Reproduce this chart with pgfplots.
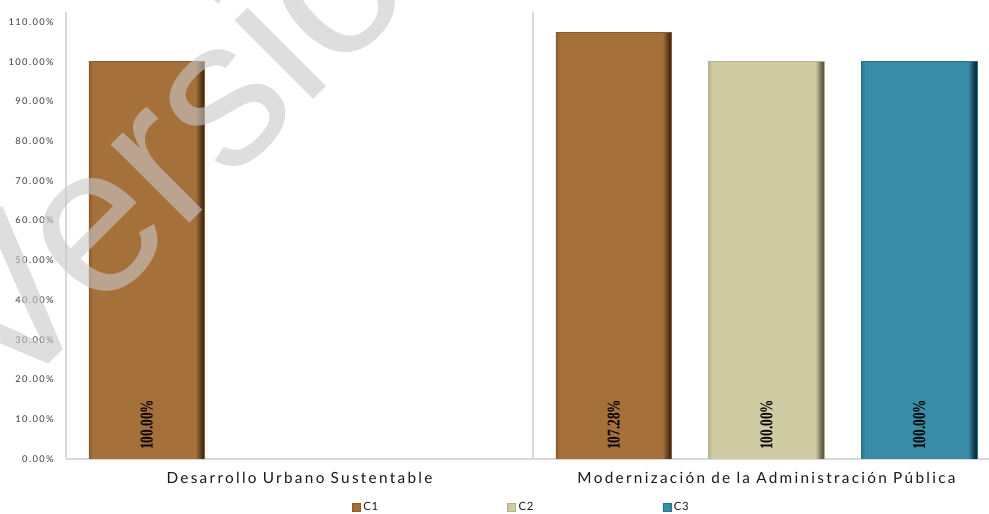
\documentclass[border=0pt]{standalone}
\usepackage{fontspec}
\setmainfont{Lato}
\newfontfamily\catfont[LetterSpace=15]{Lato}
\newfontfamily\tickfont[LetterSpace=15]{Lato}
\newfontfamily\legfont[LetterSpace=6]{Lato}
\newfontfamily\valfont{Liberation Serif}
\newfontfamily\wmfont{Liberation Sans}
\usepackage{pgfplots}
\pgfplotsset{compat=1.18}
\definecolor{cA}{RGB}{165,112,58}
\definecolor{cAl}{RGB}{140,92,46}
\definecolor{cAd}{RGB}{70,45,20}
\definecolor{cB}{RGB}{207,203,163}
\definecolor{cBl}{RGB}{185,180,142}
\definecolor{cBd}{RGB}{95,92,70}
\definecolor{cC}{RGB}{56,140,166}
\definecolor{cCl}{RGB}{44,115,138}
\definecolor{cCd}{RGB}{15,50,62}
\definecolor{axgray}{RGB}{217,217,217}
\definecolor{tickgray}{RGB}{60,60,60}
\definecolor{wm}{RGB}{200,200,200}
\pgfdeclarehorizontalshading{bevA}{100bp}{color(0bp)=(cAl); color(25bp)=(cAl); color(26.5bp)=(cA); color(71bp)=(cA); color(74bp)=(cAd); color(75bp)=(cAd); color(100bp)=(cAd)}
\pgfdeclarehorizontalshading{bevB}{100bp}{color(0bp)=(cBl); color(25bp)=(cBl); color(26.5bp)=(cB); color(71bp)=(cB); color(74bp)=(cBd); color(75bp)=(cBd); color(100bp)=(cBd)}
\pgfdeclarehorizontalshading{bevC}{100bp}{color(0bp)=(cCl); color(25bp)=(cCl); color(26.5bp)=(cC); color(71bp)=(cC); color(74bp)=(cCd); color(75bp)=(cCd); color(100bp)=(cCd)}
\begin{document}
\begin{tikzpicture}
\path[use as bounding box] (0pt,0pt) rectangle (741.75pt,385.5pt);
\begin{axis}[
  at={(49.5pt,41.25pt)}, anchor=south west,
  scale only axis, width=700.5pt, height=335.25pt,
  xmin=-0.5, xmax=1.5, ymin=0, ymax=112.5,
  axis x line=bottom, axis y line=left,
  axis line style={-, draw=axgray, line width=0.8pt},
  major tick length=0pt,
  /pgf/number format/assume math mode=true,
  xtick={0,1},
  xticklabels={Desarrollo Urbano Sustentable, Modernización de la Administración Pública},
  xticklabel style={font=\catfont\fontsize{11.5}{13}\selectfont, text=black!90, inner sep=0pt, text height=8pt, text depth=2pt},
  xticklabel shift=10pt,
  ytick={0,10,20,30,40,50,60,70,80,90,100,110},
  yticklabels={0.00\%,10.00\%,20.00\%,30.00\%,40.00\%,50.00\%,60.00\%,70.00\%,80.00\%,90.00\%,100.00\%,110.00\%},
  yticklabel style={font=\tickfont\fontsize{7}{8}\selectfont, text=tickgray, inner sep=0pt},
  yticklabel shift=9pt,
  ybar, bar width=0.248,
  visualization depends on={y \as \rawy},
  nodes near coords={\pgfmathprintnumber[fixed,fixed zerofill,precision=2]{\pgfplotspointmeta}\%},
  every node near coord/.append style={yshift={6.75pt-2.98pt*\rawy}, rotate=90, xscale=0.74, anchor=west, inner sep=0pt, font=\valfont\bfseries\fontsize{13.5}{13.5}\selectfont, text=black},
  legend columns=3,
  legend style={at={(axis description cs:0.3062,-0.1085)}, anchor=west, draw=none, fill=none, inner sep=0pt,
    font=\legfont\fontsize{8.5}{9}\selectfont, text=black!90,
    /tikz/every even column/.append style={column sep=95pt}},
  legend image code/.code={\draw[#1, line width=0.3pt] (0pt,-3pt) rectangle (6pt,3pt);},
]
\addplot[shade, shading=bevA, draw=cAl, line width=0.4pt, bar shift=-0.327] coordinates {(0,100)};
\addplot[shade, shading=bevB, draw=cBl, line width=0.4pt, bar shift=0] coordinates {(1,100)};
\addplot[shade, shading=bevC, draw=cCl, line width=0.4pt, bar shift=0.327] coordinates {(1,100)};
\addplot[shade, shading=bevA, draw=cAl, line width=0.4pt, bar shift=-0.327, forget plot] coordinates {(1,107.28)};
\legend{C1,C2,C3}
\draw[axgray, line width=0.8pt] (axis cs:0.5,0) -- (axis cs:0.5,112.5);
\end{axis}
\node[rotate=45, anchor=base west, inner sep=0pt, text=wm, opacity=0.6, font=\wmfont\fontsize{157.5}{160}\selectfont] at (4.5pt,80.25pt) {Versión Pública};
\end{tikzpicture}
\end{document}
